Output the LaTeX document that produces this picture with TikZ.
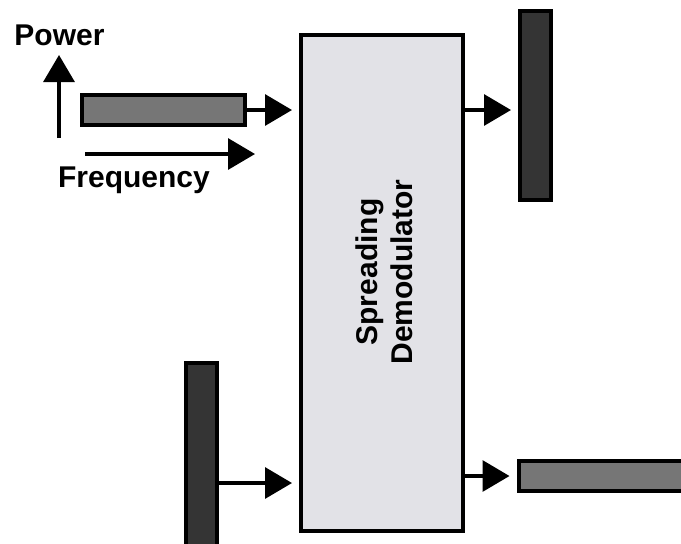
\documentclass[tikz,border=0pt]{standalone}
\usepackage{fontspec}
\setmainfont{Liberation Sans}
\usetikzlibrary{arrows.meta,calc}
\definecolor{boxgray}{RGB}{226,226,231}
\definecolor{bandgray}{RGB}{118,118,118}
\definecolor{banddark}{RGB}{52,52,52}
\tikzset{
  band/.style={draw,line width=2pt,fill=bandgray,inner sep=0pt},
  narrowband/.style={band,fill=banddark},
  sig/.style={line width=1.6pt,-{Triangle[length=13.5pt,width=15.5pt]},shorten >=3.5pt},
  axis/.style={sig,shorten >=0pt},
}
\begin{document}
\begin{tikzpicture}[x=0.5pt,y=-0.5pt,font=\fontsize{15}{17.5}\selectfont\bfseries]
    \useasboundingbox (0,0) rectangle (681,543);
    \clip (0,0) rectangle (681,543);
    % despreader block
    \node[draw,line width=2pt,fill=boxgray,minimum width=81pt,minimum height=248pt,inner sep=0pt] (demod) at (382,283) {};
    \node[rotate=90,align=center] (demodlabel) at (384.5,272) {Spreading\\Demodulator};
    % spectra
    \node[band,minimum width=81.5pt,minimum height=15pt] (inbar) at (163.5,110) {};
    \node[narrowband,minimum width=15.5pt,minimum height=94.5pt] (outbar) at (535.5,105.5) {};
    \node[narrowband,minimum width=15.5pt,minimum height=118.5pt] (jambar) at (201.5,481) {};
    \node[band,minimum width=100.5pt,minimum height=15pt] (spreadbar) at (619,476) {};
    % axes
    \node[anchor=base] (power) at (59.5,45) {Power};
    \node[anchor=base] (freq) at (134,187) {Frequency};
    \coordinate (pbase) at (59,138);
    \coordinate (ptip) at (59,55);
    \coordinate (fbase) at (85,154);
    \coordinate (ftip) at (255,154);
    \coordinate (lowin) at (0,483);
    \draw[axis] (pbase) -- (ptip);
    \draw[axis] (fbase) -- (ftip);
    % signal paths
    \draw[sig] (inbar.east) -- (inbar.east -| demod.west);
    \draw[sig] (inbar.east -| demod.east) -- (inbar.east -| outbar.west);
    \draw[sig] (jambar.east |- lowin) -- (demod.west |- lowin);
    \draw[sig] (spreadbar.west -| demod.east) -- (spreadbar.west);
\end{tikzpicture}
\end{document}
